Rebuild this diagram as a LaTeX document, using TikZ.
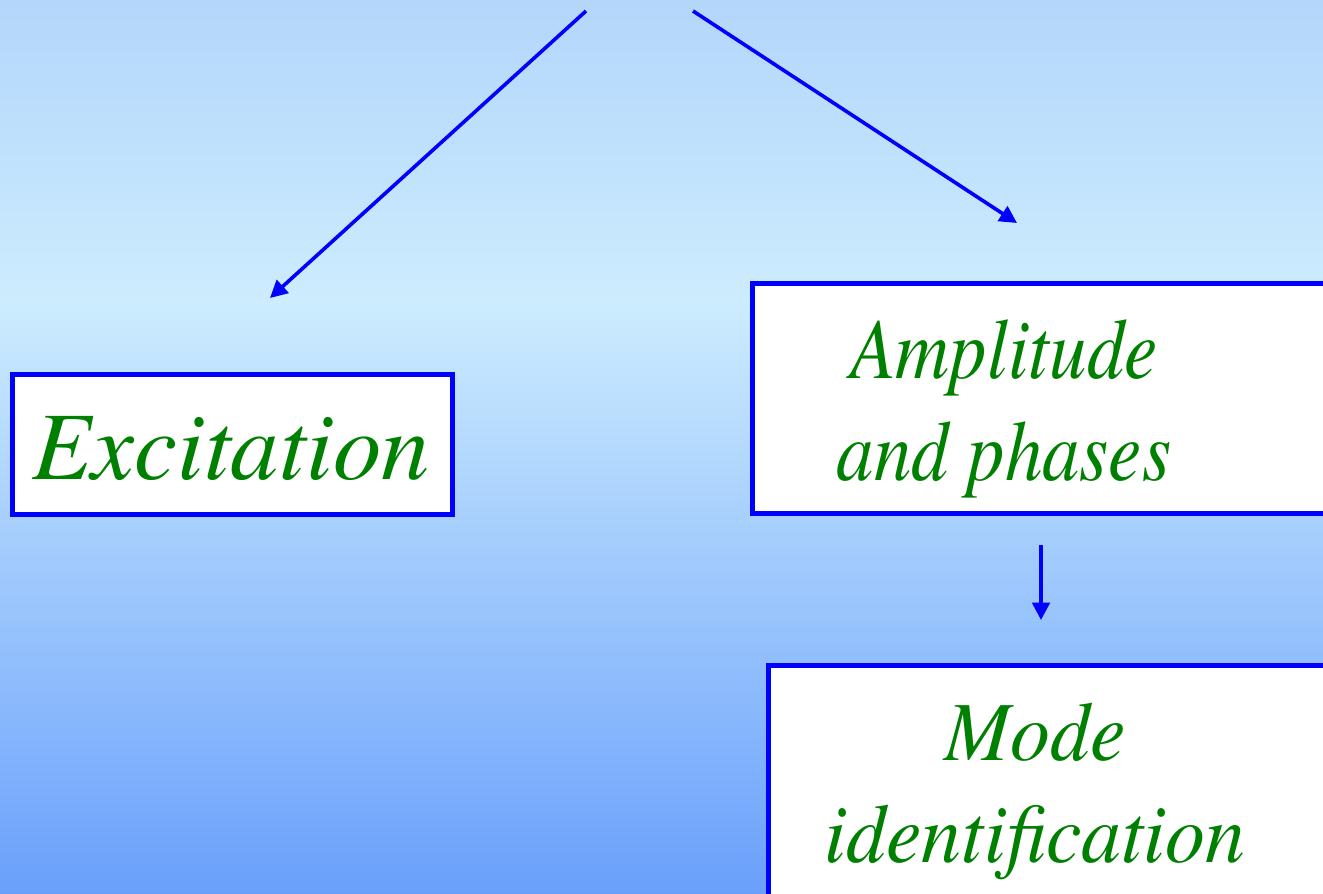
\documentclass[tikz,border=0pt]{standalone}
\usepackage{fontspec}
\newfontfamily\lserif{texgyretermes}[Extension=.otf, UprightFont=*-regular, ItalicFont=*-italic, BoldFont=*-bold]
\usetikzlibrary{arrows.meta}
\definecolor{bgtop}{RGB}{179,214,251}
\definecolor{bgmid}{RGB}{205,236,254}
\definecolor{bgbot}{RGB}{106,160,251}
\definecolor{boxblue}{RGB}{0,0,255}
\definecolor{txtgreen}{RGB}{0,128,0}
\pgfdeclareverticalshading{bgshade}{100bp}{color(0bp)=(bgbot); color(25bp)=(bgbot); color(58.2bp)=(bgmid); color(75bp)=(bgtop); color(100bp)=(bgtop)}
\tikzset{
  box/.style={rectangle, draw=boxblue, line width=3.75pt, fill=white, inner sep=0pt},
  lbl/.style={text=txtgreen, anchor=base, inner sep=0pt},
  conn/.style={draw=boxblue, line width=2.7pt, -{Triangle[length=13pt,width=13pt]}},
}
\begin{document}
\begin{tikzpicture}[x=0.75pt,y=-0.75pt]
\useasboundingbox (0,0) rectangle (1323,893);
\clip (0,0) rectangle (1323,893);
\shade[shading=bgshade] (0,0) rectangle (1323,893);

% boxes
\node[box, minimum width=330pt, minimum height=105pt] (excbox) at (232.5,444.5) {};
\node[box, minimum width=444.4pt, minimum height=172.5pt] (ampbox) at (1048.75,398.5) {};
\node[box, minimum width=432.4pt, minimum height=190.9pt] (modebox) at (1056.75,792.75) {};

% texts
\node[lbl, font=\lserif\fontsize{72.5}{76.5}\selectfont\itshape] (exc) at (231,479) {Excitation};
\node[lbl, font=\lserif\fontsize{64.5}{76.5}\selectfont\itshape] (amp) at (1004,378)
  {\scalebox{0.87}[1]{\begin{tabular}[t]{@{}c@{}}Amplitude\\and phases\end{tabular}}};
\node[lbl, font=\lserif\fontsize{63}{76.5}\selectfont\itshape] (mode) at (1035,760)
  {\scalebox{0.95}[1]{\begin{tabular}[t]{@{}c@{}}Mode\\identification\end{tabular}}};

% connectors
\coordinate (srcL) at (586,11);
\coordinate (tipL) at (270,298);
\coordinate (srcR) at (693,11);
\coordinate (tipR) at (1017,223);
\coordinate (srcD) at (1041,545);
\coordinate (tipD) at (1041,620);
\draw[conn] (srcL) -- (tipL);
\draw[conn] (srcR) -- (tipR);
\draw[conn] (srcD) -- (tipD);
\end{tikzpicture}
\end{document}
